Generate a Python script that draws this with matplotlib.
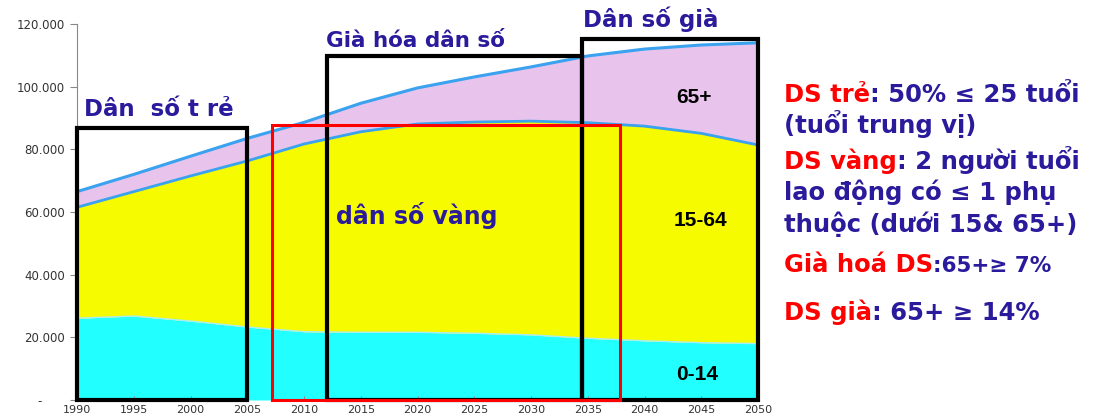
import matplotlib.pyplot as plt
from matplotlib.patches import Rectangle

# dan so Viet Nam theo nhom tuoi, nghin nguoi (doc tu hinh)
years = [1990, 1995, 2000, 2005, 2010, 2015, 2020, 2025, 2030, 2035, 2040, 2045, 2050]
age_0_14 = [26.1, 26.8, 25.2, 23.3, 21.8, 21.6, 21.6, 21.3, 20.8, 19.7, 18.9, 18.3, 18.0]
age_0_64 = [61.5, 66.5, 71.5, 76.3, 81.7, 85.6, 88.1, 88.7, 89.0, 88.5, 87.4, 85.1, 81.4]
total = [66.5, 72.0, 77.8, 83.5, 88.6, 94.7, 99.6, 103.1, 106.3, 109.8, 112.0, 113.3, 114.0]

y_ticks = [0, 20, 40, 60, 80, 100, 120]
y_labels = ["-      ", "20.000", "40.000", "60.000", "80.000", "100.000", "120.000"]
x_ticks = list(range(1990, 2051, 5))

# cac khung giai doan: (nam dau, nam cuoi, chieu cao, mau)
boxes = [(1990, 2005, 86.8, "black"),
         (2012, 2034.5, 109.7, "black"),
         (2034.5, 2050, 115.2, "black"),
         (2007.2, 2037.8, 87.8, "red")]
box_titles = [("Dân  số t rẻ", 1990.6, 89.0, 16.5),
              ("Già hóa dân số", 2011.9, 111.5, 15.5),
              ("Dân số già", 2034.6, 117.6, 16.5)]

navy = "#2a1a9c"
red = "#ff0000"

fig = plt.figure(figsize=(10.94, 4.19), dpi=100)
ax = fig.add_axes([77 / 1094, 19 / 419, 681 / 1094, 376 / 419])

ax.fill_between(years, 0, age_0_14, color="#22ffff", lw=0)
ax.fill_between(years, age_0_14, age_0_64, color="#f6fb00", lw=0)
ax.fill_between(years, age_0_64, total, color="#e8c4ec", lw=0)
ax.plot(years, age_0_14, color="#a8eef4", lw=1)
ax.plot(years, age_0_64, color="#3aa2ee", lw=2)
ax.plot(years, total, color="#3aa2ee", lw=2.2)

for x0, x1, h, c in boxes:
    ax.add_patch(Rectangle((x0, 0), x1 - x0, h, fill=False, ec=c,
                           lw=3 if c == "black" else 2.2, clip_on=False, zorder=5))

for s, x, y, fs in box_titles:
    ax.text(x, y, s, color=navy, fontsize=fs, fontweight="bold",
            family="DejaVu Sans", ha="left", va="bottom")

ax.text(2012.8, 59, "dân số vàng", color=navy, fontsize=17, fontweight="bold",
        family="DejaVu Sans", va="center")
ax.text(2044.4, 96.4, "65+", fontsize=15, fontweight="bold", family="Liberation Sans",
        ha="center", va="center")
ax.text(2044.9, 57.4, "15-64", fontsize=15, fontweight="bold", family="Liberation Sans",
        ha="center", va="center")
ax.text(2044.6, 8, "0-14", fontsize=15, fontweight="bold", family="Liberation Sans",
        ha="center", va="center")

ax.set_xlim(1990, 2050)
ax.set_ylim(0, 120)
ax.set_yticks(y_ticks)
ax.set_yticklabels(y_labels)
ax.set_xticks(x_ticks)
for sp in ["top", "right", "bottom"]:
    ax.spines[sp].set_visible(False)
ax.spines["left"].set_color("#888888")
ax.tick_params(axis="y", colors="#888888", labelcolor="#333333", labelsize=8.5, length=5)
ax.tick_params(axis="x", direction="in", colors="#888888", labelcolor="#333333",
               labelsize=8, length=3, pad=3.5)

# chu thich ben phai, nhieu mau tren mot dong
lines = [
    [("DS trẻ", red, 17.5), (": 50% ≤ 25 tuổi", navy, 17.5)],
    [("(tuổi trung vị)", navy, 17.5)],
    [("DS vàng", red, 17.5), (": 2 người tuổi", navy, 17.5)],
    [("lao động có ≤ 1 phụ", navy, 17.5)],
    [("thuộc (dưới 15& 65+)", navy, 17.5)],
    [("Già hoá DS", red, 17.5), (":65+≥ 7%", navy, 15.5)],
    [("DS già", red, 17.5), (": 65+ ≥ 14%", navy, 17.5)],
]
line_y = [102, 133, 169, 200, 232, 272, 320]

r = fig.canvas.get_renderer()
for parts, yp in zip(lines, line_y):
    x = 784
    for s, c, fs in parts:
        t = fig.text(x / 1094, 1 - yp / 419, s, color=c, fontsize=fs, fontweight="bold",
                     family="DejaVu Sans", ha="left", va="baseline")
        x = t.get_window_extent(r).x1

fig.savefig("out.png", dpi=100)
